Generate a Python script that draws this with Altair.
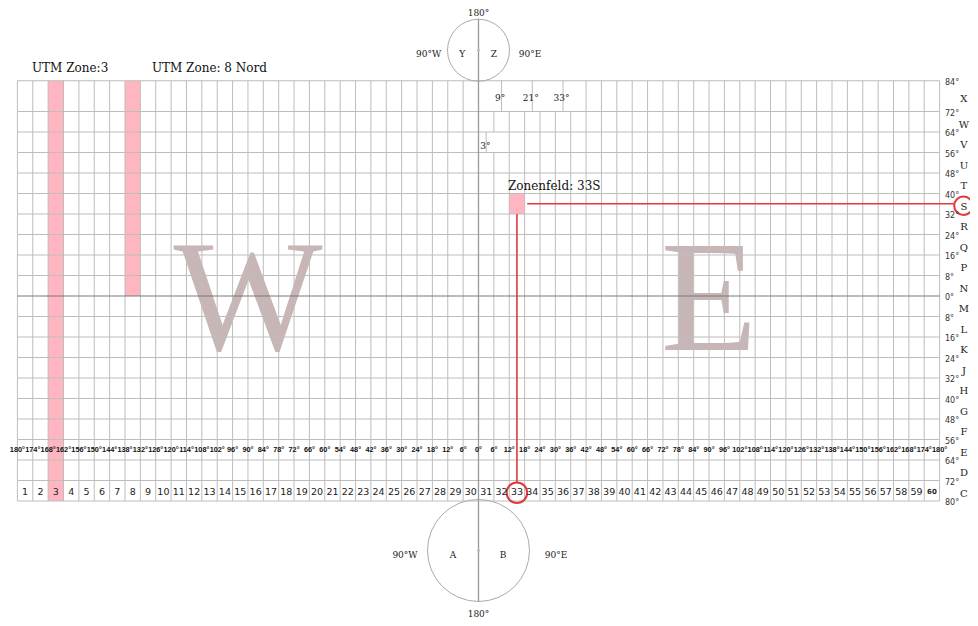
import altair as alt
import pandas as pd

# ---------------- data ----------------
lon_lines = list(range(-180, 181, 6))
lon_labels = [f"{abs(v)}°" for v in lon_lines]
lat_lines = [84, 72, 64, 56, 48, 40, 32, 24, 16, 8, 0, -8, -16, -24, -32, -40, -48, -56, -64, -72, -80]
lat_labels = [f"{abs(v)}°" for v in lat_lines]
band_letters = list("XWVUTSRQPNMLKJHGFEDC")
zone_numbers = list(range(1, 61))

# irregular zones (Norway / Svalbard)
x_band_removed = [6, 12, 18, 24, 30, 36]
x_band_added = [9, 21, 33]
v_band_removed = [6]
v_band_added = [3]

# highlighted cells: lon0, lon1, lat0, lat1
highlight_lon0 = [-168, -138, 12]
highlight_lon1 = [-162, -132, 18]
highlight_lat0 = [-80, 0, 32]
highlight_lat1 = [84, 84, 40]

titles = ["UTM Zone:3", "UTM Zone: 8 Nord", "Zonenfeld: 33S"]
title_lon = [-174.3, -127.5, 11.5]
title_lat = [89.0, 89.0, 42.9]

# ---------------- geometry ----------------
PXL = 15.37 / 6.0      # px per degree longitude
PYL = 2.5625           # px per degree latitude
W, H = 962, 610
X0 = 478.5 - 8         # plot x of lon 0
Y0 = 296 - 8           # plot y of lat 0
lon_min = (0 - X0) / PXL
lon_max = (W - X0) / PXL
lat_max = Y0 / PYL
lat_min = (Y0 - H) / PYL

xs = alt.Scale(domain=[lon_min, lon_max], nice=False, zero=False)
ys = alt.Scale(domain=[lat_min, lat_max], nice=False, zero=False)

GRID = "#bdbdbd"
RED = "#e0393e"
INK = "#222222"

# ---------------- tables ----------------
hl = pd.DataFrame({"lon": highlight_lon0, "lon2": highlight_lon1,
                   "lat": highlight_lat0, "lat2": highlight_lat1})

vseg = []
for i, letter in enumerate(band_letters):
    top, bot = lat_lines[i], lat_lines[i + 1]
    for lon in lon_lines:
        if lon == 0:
            continue
        if letter == "X" and lon in x_band_removed:
            continue
        if letter == "V" and lon in v_band_removed:
            continue
        vseg.append({"lon": lon, "lat": bot, "lat2": top})
    if letter == "X":
        for lon in x_band_added:
            vseg.append({"lon": lon, "lat": bot, "lat2": top})
    if letter == "V":
        for lon in v_band_added:
            vseg.append({"lon": lon, "lat": bot, "lat2": top})
vseg = pd.DataFrame(vseg)

hseg = pd.DataFrame({"lat": [v for v in lat_lines if v != 0]})
hseg["lon"] = -180
hseg["lon2"] = 180
equator = pd.DataFrame({"lat": [0], "lon": [-180], "lon2": [180]})
center = pd.DataFrame({"lon": [0], "lat": [-119.4], "lat2": [108.2]})

lonlab = pd.DataFrame({"lon": lon_lines, "lat": -60, "t": lon_labels})
zones = pd.DataFrame({"lon": [-177 + 6 * (n - 1) for n in zone_numbers],
                      "lat": -76.4, "t": [str(n) for n in zone_numbers]})
latlab = pd.DataFrame({"lon": 182.1, "lat": lat_lines, "t": lat_labels})
band_mid = [(lat_lines[i] + lat_lines[i + 1]) / 2 for i in range(len(band_letters))]
letters = pd.DataFrame({"lon": 189.5, "lat": band_mid, "t": band_letters})
exc = pd.DataFrame({"lon": [v - 0.6 for v in x_band_added] + [v - 0.3 for v in v_band_added],
                    "lat": [77.2] * len(x_band_added) + [58.5] * len(v_band_added),
                    "t": [f"{v}°" for v in x_band_added + v_band_added]})
tit = pd.DataFrame({"lon": title_lon, "lat": title_lat, "t": titles})
big = pd.DataFrame({"lon": [-90, 90], "lat": [-21, -21], "t": ["W", "E"]})

circ = pd.DataFrame({"lon": [0, 0], "lat": [95.9, -99.3], "s": [3844, 10404]})
circ_txt = pd.DataFrame({
    "lon": [0, -19.5, -6.4, 6.05, 20.1, -28.7, -10.0, 9.6, 30.3, 0],
    "lat": [110.4, 94.4, 94.4, 94.4, 94.4, -101.1, -101.1, -101.1, -101.1, -124.2],
    "t": ["180°", "90°W", "Y", "Z", "90°E", "90°W", "A", "B", "90°E", "180°"]})

red_h = pd.DataFrame({"lat": [36], "lon": [19], "lon2": [185.6]})
red_v = pd.DataFrame({"lon": [15], "lat": [32], "lat2": [-72.6]})
red_c = pd.DataFrame({"lon": [15, 189.3], "lat": [-76.8, 35.2], "s": [420, 340]})

# ---------------- layers ----------------
def X(f="lon"):
    return alt.X(f"{f}:Q", scale=xs, axis=None)

def Y(f="lat"):
    return alt.Y(f"{f}:Q", scale=ys, axis=None)

layers = []
layers.append(alt.Chart(hl).mark_rect(color="#ffb6c1").encode(
    x=X(), x2="lon2:Q", y=Y(), y2="lat2:Q"))
layers.append(alt.Chart(big).mark_text(font="Liberation Serif", fontSize=158, color="#c8b6b6",
                                       align="center", baseline="alphabetic").encode(
    x=X(), y=Y(), text="t:N"))
layers.append(alt.Chart(vseg).mark_rule(color=GRID, strokeWidth=1).encode(
    x=X(), y=Y(), y2="lat2:Q"))
layers.append(alt.Chart(hseg).mark_rule(color=GRID, strokeWidth=1).encode(
    y=Y(), x=X(), x2="lon2:Q"))
layers.append(alt.Chart(equator).mark_rule(color="#777777", strokeWidth=1).encode(
    y=Y(), x=X(), x2="lon2:Q"))
layers.append(alt.Chart(center).mark_rule(color="#999999", strokeWidth=1.3).encode(
    x=X(), y=Y(), y2="lat2:Q"))
layers.append(alt.Chart(circ).mark_point(shape="circle", filled=False, color="#aaaaaa",
                                         strokeWidth=1, opacity=1).encode(
    x=X(), y=Y(), size=alt.Size("s:Q", scale=None, legend=None)))
layers.append(alt.Chart(circ).mark_point(shape="circle", filled=True, color="#bbbbbb",
                                         size=8, opacity=1).encode(x=X(), y=Y()))
layers.append(alt.Chart(red_h).mark_rule(color=RED, strokeWidth=1.6).encode(
    y=Y(), x=X(), x2="lon2:Q"))
layers.append(alt.Chart(red_v).mark_rule(color=RED, strokeWidth=1.6).encode(
    x=X(), y=Y(), y2="lat2:Q"))
layers.append(alt.Chart(red_c).mark_point(shape="circle", filled=False, color=RED,
                                          strokeWidth=2, opacity=1).encode(
    x=X(), y=Y(), size=alt.Size("s:Q", scale=None, legend=None)))

def txt(df, **kw):
    base = dict(color=INK, align="center", baseline="middle")
    base.update(kw)
    return alt.Chart(df).mark_text(**base).encode(x=X(), y=Y(), text="t:N")

layers.append(txt(lonlab, font="Liberation Sans", fontSize=7.3, fontWeight="bold", color="#111111"))
layers.append(txt(zones[zones.t != "60"], font="DejaVu Sans", fontSize=9.5))
layers.append(txt(zones[zones.t == "60"], font="DejaVu Sans", fontSize=7, fontWeight="bold"))
layers.append(txt(latlab, font="DejaVu Sans", fontSize=8, align="left", dy=2, color="#333333"))
layers.append(txt(letters, font="DejaVu Serif", fontSize=10, dy=3))
layers.append(txt(exc, font="DejaVu Serif", fontSize=9))
layers.append(txt(tit, font="DejaVu Serif", fontSize=12, align="left", color="#111111"))
layers.append(txt(circ_txt, font="DejaVu Serif", fontSize=9))

chart = alt.layer(*layers).properties(
    width=W, height=H, padding=0, autosize=alt.AutoSizeParams(type="none")
).configure_view(stroke=None)

chart.save("out.html", embed_options={"renderer": "svg", "actions": False})
